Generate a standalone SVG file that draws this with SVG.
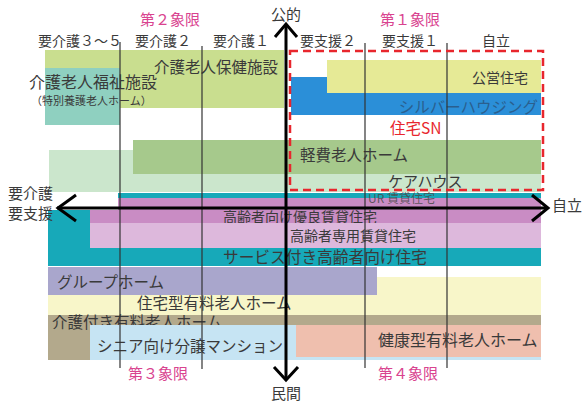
<svg xmlns="http://www.w3.org/2000/svg" width="582" height="403" viewBox="0 0 582 403">
<style>
text{font-family:"Noto Sans CJK JP","Noto Sans",sans-serif;fill:#3a3a3a}
.t{font-size:15.5px}
.h{font-size:14px}
.q{font-size:15px;fill:#d9438f}
.grid{stroke:#333;stroke-width:1.2}
.ax{stroke:#000;stroke-width:3;fill:none}
</style>
<rect width="582" height="403" fill="#fff"/>
<g id="kaigo-hoken"><rect x="45" y="50" width="239" height="58" fill="#c9de8f"/><text class="t" x="278" y="73" text-anchor="end">介護老人保健施設</text></g>
<g id="kaigo-fukushi"><rect x="45" y="68" width="75" height="57" fill="#8fd0c0"/><text x="29" y="88" style="font-size:16px">介護老人福祉施設</text><text x="31" y="105" style="font-size:11px">（特別養護老人ホーム）</text></g>
<g id="silver"><rect x="291" y="77" width="250" height="38" fill="#2b8fd8"/><text class="t" x="538" y="112.5" text-anchor="end" style="fill:#2a5f8f">シルバーハウジング</text></g>
<g id="koei"><rect x="327" y="60" width="214" height="33" fill="#e6ea96"/><text x="528" y="83" text-anchor="end" style="font-size:14px">公営住宅</text></g>
<g id="sn"><text class="t" x="390" y="133.5" style="fill:#e8262d">住宅SN</text></g>
<g id="carehouse"><rect x="49" y="150" width="492" height="42" fill="#cbe6cc"/><text x="388" y="186.5" style="font-size:15px">ケアハウス</text></g>
<g id="keihi"><rect x="133" y="140" width="408" height="34" fill="#a6c98c"/><text class="t" x="300" y="160.5">軽費老人ホーム</text></g>
<g id="sakoju"><path d="M118,193H541V266H48V210H118Z" fill="#17a9b9"/><text x="223" y="262.5" style="font-size:15.7px">サービス付き高齢者向け住宅</text></g>
<g id="koyuchin"><path d="M118,198H541V223H90V210H118Z" fill="#c98cc4"/><text x="223" y="222" style="font-size:14px">高齢者向け優良賃貸住宅</text></g>
<g id="ur"><text x="368" y="203" style="font-size:12px;fill:#4a4a4a;fill-opacity:0.85">UR 賃貸住宅</text></g>
<g id="kosenchin"><rect x="90" y="223" width="451" height="25" fill="#ddb8dc"/><text x="290" y="241" style="font-size:14px">高齢者専用賃貸住宅</text></g>
<g id="jutakugata"><rect x="48" y="277" width="493" height="38" fill="#f8f6c9"/><text class="t" x="137" y="308.5">住宅型有料老人ホーム</text></g>
<g id="grouphome"><rect x="48" y="267" width="329" height="28" fill="#a9a6cc"/><text class="t" x="57" y="287.5">グループホーム</text></g>
<g id="kaigotsuki"><rect x="48" y="315" width="493" height="45" fill="#b3a98c"/><text class="t" x="52" y="327.5">介護付き有料老人ホーム</text></g>
<g id="senior"><rect x="90" y="325" width="451" height="35" fill="#c6e4f3"/><text class="t" x="97" y="351.5">シニア向け分譲マンション</text></g>
<g id="kenkogata"><rect x="296" y="325" width="245" height="32" fill="#efbfae"/><text x="378" y="345.5" style="font-size:16px">健康型有料老人ホーム</text></g>
<g id="grid">
<line class="grid" x1="120" y1="42" x2="120" y2="368"/>
<line class="grid" x1="202" y1="46" x2="202" y2="369"/>
<line class="grid" x1="365" y1="43" x2="365" y2="368"/>
<line class="grid" x1="447" y1="43" x2="447" y2="368"/>
</g>
<g id="headers">
<text class="h" x="38" y="46">要介護３～５</text>
<text class="h" x="135" y="46">要介護２</text>
<text class="h" x="213" y="46">要介護１</text>
<text class="h" x="300" y="46">要支援２</text>
<text class="h" x="382" y="46">要支援１</text>
<text class="h" x="482" y="46">自立</text>
</g>
<g id="quadrants">
<text class="q" x="140" y="25">第２象限</text>
<text class="q" x="380" y="25">第１象限</text>
<text class="q" x="128" y="378.5">第３象限</text>
<text class="q" x="378" y="378.5">第４象限</text>
</g>
<g id="frame"><rect x="290" y="51" width="253" height="139" fill="none" stroke="#e8262d" stroke-width="2.5" stroke-dasharray="8,5"/></g>
<g id="connectors">
<line class="ax" x1="286" y1="24" x2="286" y2="380"/>
<polyline class="ax" points="275,37 286,24 297,37"/>
<polyline class="ax" points="274,367 286,380 298,367"/>
<line class="ax" x1="57" y1="208" x2="548" y2="208"/>
<polyline class="ax" points="76,195 58,208 76,221"/>
<polyline class="ax" points="532,195 548,208 532,221"/>
</g>
<g id="axis-labels">
<text x="286" y="20" text-anchor="middle" style="font-size:15px">公的</text>
<text x="286" y="399" text-anchor="middle" style="font-size:15px">民間</text>
<text x="552" y="210.5" style="font-size:15px">自立</text>
<text x="8" y="199" style="font-size:15px">要介護</text>
<text x="8" y="219" style="font-size:15px">要支援</text>
</g>
</svg>
